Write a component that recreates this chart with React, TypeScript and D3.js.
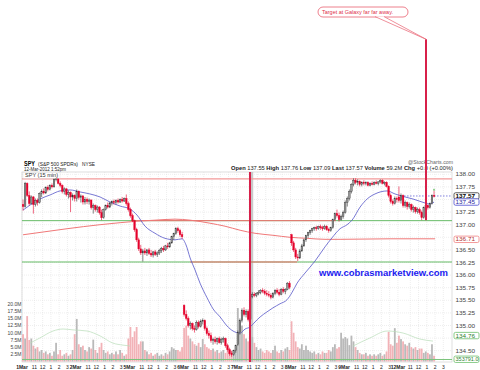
import React from "react";
import * as d3 from "d3";

const width = 480;
const height = 370;
const plotLeft = 22;
const plotRight = 452;
const plotTop = 172;
const plotBottom = 362;
const slotsPerDay = 26;
const font = "'Liberation Sans', Arial, sans-serif";

const DAYS = ["1Mar", "2Mar", "5Mar", "6Mar", "7Mar", "8Mar", "9Mar", "12Mar"];
const HOUR_LABELS = ["11", "12", "1", "2", "3"];
const HOUR_SLOTS = [6, 10, 14, 18, 22];
const PRICE_LABELS = [138, 137.75, 137.25, 137, 136.5, 136.25, 136, 135.75, 135.5, 135.25, 135, 134.5];
const VOLUME_TICKS = [20, 17.5, 15, 12.5, 10, 7.5, 5, 2.5];

const HEADER_STATS = [
  ["Open", "137.55"],
  ["High", "137.76"],
  ["Low", "137.09"],
  ["Last", "137.57"],
  ["Volume", "59.2M"],
  ["Chg", "+0.0 (+0.00%)"],
];

type Candle = [number, number, number, number];

// 15 min bars, [open, high, low, close]
const mar01: Candle[] = [
  [137.40, 137.50, 137.28, 137.36], [137.36, 137.85, 137.34, 137.82], [137.82, 137.84, 137.55, 137.58],
  [137.58, 137.66, 137.38, 137.42], [137.42, 137.58, 137.40, 137.55], [137.55, 137.57, 137.22, 137.40],
  [137.40, 137.52, 137.36, 137.48], [137.48, 137.52, 137.38, 137.44], [137.44, 137.64, 137.42, 137.62],
  [137.62, 137.70, 137.55, 137.66], [137.66, 137.72, 137.60, 137.63], [137.63, 137.76, 137.61, 137.74],
  [137.74, 137.78, 137.66, 137.70], [137.70, 137.80, 137.68, 137.78], [137.78, 137.82, 137.72, 137.75],
  [137.75, 137.93, 137.74, 137.90], [137.90, 137.96, 137.86, 137.92], [137.92, 137.94, 137.80, 137.82],
  [137.82, 137.86, 137.74, 137.78], [137.78, 137.80, 137.62, 137.66], [137.66, 137.74, 137.60, 137.71],
  [137.71, 137.73, 137.56, 137.60], [137.60, 137.68, 137.52, 137.64], [137.64, 137.66, 137.25, 137.55],
  [137.55, 137.62, 137.48, 137.58], [137.58, 137.60, 137.46, 137.52],
];
const mar02: Candle[] = [
  [137.52, 137.70, 137.46, 137.66], [137.66, 137.68, 137.50, 137.54], [137.54, 137.60, 137.44, 137.57],
  [137.57, 137.59, 137.40, 137.45], [137.45, 137.55, 137.40, 137.50], [137.50, 137.54, 137.41, 137.46],
  [137.46, 137.52, 137.40, 137.49], [137.49, 137.50, 137.30, 137.34], [137.34, 137.42, 137.22, 137.38],
  [137.38, 137.40, 137.26, 137.30], [137.30, 137.38, 137.24, 137.35], [137.35, 137.37, 137.20, 137.24],
  [137.24, 137.30, 137.09, 137.14], [137.14, 137.32, 137.12, 137.30], [137.30, 137.40, 137.28, 137.38],
  [137.38, 137.44, 137.32, 137.35], [137.35, 137.45, 137.33, 137.43], [137.43, 137.48, 137.38, 137.46],
  [137.46, 137.50, 137.40, 137.44], [137.44, 137.50, 137.40, 137.48], [137.48, 137.52, 137.42, 137.45],
  [137.45, 137.52, 137.43, 137.50], [137.50, 137.55, 137.44, 137.47], [137.47, 137.54, 137.45, 137.52],
  [137.52, 137.60, 137.38, 137.42], [137.42, 137.46, 137.26, 137.30],
];
const mar05: Candle[] = [
  [137.30, 137.34, 137.14, 137.18], [137.18, 137.22, 137.05, 137.08], [137.08, 137.10, 136.86, 136.90],
  [136.90, 136.94, 136.66, 136.70], [136.70, 136.74, 136.48, 136.52], [136.52, 136.60, 136.40, 136.44],
  [136.44, 136.52, 136.27, 136.48], [136.48, 136.54, 136.40, 136.44], [136.44, 136.52, 136.38, 136.50],
  [136.50, 136.54, 136.40, 136.43], [136.43, 136.50, 136.36, 136.40], [136.40, 136.48, 136.35, 136.46],
  [136.46, 136.50, 136.38, 136.41], [136.41, 136.47, 136.36, 136.44], [136.44, 136.52, 136.40, 136.49],
  [136.49, 136.56, 136.44, 136.53], [136.53, 136.58, 136.46, 136.50], [136.50, 136.60, 136.48, 136.58],
  [136.58, 136.64, 136.52, 136.56], [136.56, 136.66, 136.54, 136.64], [136.64, 136.78, 136.62, 136.76],
  [136.76, 136.84, 136.70, 136.82], [136.82, 136.95, 136.80, 136.92], [136.92, 136.96, 136.84, 136.88],
  [136.88, 136.92, 136.76, 136.80], [136.80, 136.86, 136.72, 136.76],
];
const mar06: Candle[] = [
  [135.40, 135.42, 135.18, 135.22], [135.22, 135.30, 135.10, 135.14], [135.14, 135.18, 134.96, 135.00],
  [135.00, 135.08, 134.92, 135.04], [135.04, 135.06, 134.90, 134.94], [134.94, 135.00, 134.86, 134.92],
  [134.92, 135.10, 134.90, 135.06], [135.06, 135.10, 134.94, 134.98], [134.98, 135.12, 134.96, 135.08],
  [135.08, 135.14, 135.02, 135.10], [135.10, 135.12, 134.90, 134.94], [134.94, 134.98, 134.80, 134.84],
  [134.84, 134.90, 134.74, 134.80], [134.80, 134.86, 134.66, 134.70], [134.70, 134.76, 134.62, 134.72],
  [134.72, 134.78, 134.64, 134.68], [134.68, 134.76, 134.62, 134.74], [134.74, 134.78, 134.64, 134.66],
  [134.66, 134.76, 134.62, 134.72], [134.72, 134.78, 134.66, 134.74], [134.74, 134.76, 134.56, 134.60],
  [134.60, 134.64, 134.48, 134.52], [134.52, 134.56, 134.40, 134.44], [134.44, 134.50, 134.38, 134.42],
  [134.42, 134.52, 134.40, 134.50], [134.50, 134.62, 134.46, 134.60],
];
const mar07: Candle[] = [
  [134.62, 134.90, 134.60, 134.86], [134.86, 135.14, 134.82, 135.10], [135.10, 135.34, 135.06, 135.30],
  [135.30, 135.36, 135.18, 135.22], [135.22, 135.32, 135.16, 135.28], [135.28, 135.32, 135.08, 135.12],
  [135.12, 135.62, 135.10, 135.58], [135.58, 135.66, 135.54, 135.62], [135.62, 135.66, 135.56, 135.60],
  [135.60, 135.66, 135.56, 135.64], [135.64, 135.70, 135.60, 135.66], [135.66, 135.72, 135.62, 135.70],
  [135.70, 135.74, 135.64, 135.68], [135.68, 135.72, 135.60, 135.64], [135.64, 135.70, 135.58, 135.62],
  [135.62, 135.68, 135.56, 135.60], [135.60, 135.64, 135.52, 135.56], [135.56, 135.66, 135.54, 135.64],
  [135.64, 135.72, 135.60, 135.70], [135.70, 135.74, 135.62, 135.66], [135.66, 135.72, 135.58, 135.62],
  [135.62, 135.74, 135.60, 135.72], [135.72, 135.76, 135.64, 135.68], [135.68, 135.74, 135.62, 135.72],
  [135.72, 135.86, 135.70, 135.84], [135.84, 135.88, 135.72, 135.76],
];
const mar08: Candle[] = [
  [136.80, 136.82, 136.58, 136.64], [136.64, 136.68, 136.46, 136.50], [136.50, 136.54, 136.32, 136.36],
  [136.36, 136.42, 136.28, 136.34], [136.34, 136.52, 136.32, 136.48], [136.48, 136.62, 136.46, 136.58],
  [136.58, 136.72, 136.56, 136.70], [136.70, 136.80, 136.66, 136.78], [136.78, 136.86, 136.74, 136.84],
  [136.84, 136.90, 136.80, 136.88], [136.88, 136.94, 136.84, 136.92], [136.92, 136.96, 136.88, 136.94],
  [136.94, 136.98, 136.88, 136.92], [136.92, 136.98, 136.90, 136.96], [136.96, 137.00, 136.90, 136.94],
  [136.94, 136.98, 136.88, 136.92], [136.92, 137.00, 136.90, 136.97], [136.97, 136.99, 136.88, 136.90],
  [136.90, 136.94, 136.84, 136.88], [136.88, 136.96, 136.86, 136.94], [136.94, 137.12, 136.92, 137.10],
  [137.10, 137.24, 137.08, 137.22], [137.22, 137.30, 137.14, 137.18], [137.18, 137.24, 137.06, 137.10],
  [137.10, 137.20, 137.08, 137.16], [137.16, 137.28, 137.12, 137.24],
];
const mar09: Candle[] = [
  [137.24, 137.48, 137.22, 137.44], [137.44, 137.56, 137.36, 137.52], [137.52, 137.70, 137.48, 137.66],
  [137.66, 137.82, 137.62, 137.80], [137.80, 137.92, 137.76, 137.88], [137.88, 137.92, 137.80, 137.84],
  [137.84, 137.90, 137.78, 137.86], [137.86, 137.88, 137.76, 137.80], [137.80, 137.86, 137.76, 137.84],
  [137.84, 137.88, 137.78, 137.82], [137.82, 137.86, 137.78, 137.84], [137.84, 137.86, 137.76, 137.78],
  [137.78, 137.84, 137.76, 137.82], [137.82, 137.86, 137.78, 137.80], [137.80, 137.86, 137.78, 137.84],
  [137.84, 137.88, 137.80, 137.82], [137.82, 137.86, 137.78, 137.85], [137.85, 137.90, 137.82, 137.88],
  [137.88, 137.90, 137.80, 137.82], [137.82, 137.86, 137.78, 137.84], [137.84, 137.86, 137.74, 137.76],
  [137.76, 137.78, 137.54, 137.58], [137.58, 137.62, 137.42, 137.46], [137.46, 137.50, 137.38, 137.42],
  [137.42, 137.56, 137.40, 137.52], [137.52, 137.56, 137.44, 137.50],
];
const mar12: Candle[] = [
  [137.55, 137.76, 137.44, 137.48], [137.48, 137.62, 137.42, 137.58], [137.58, 137.60, 137.34, 137.38],
  [137.38, 137.48, 137.34, 137.44], [137.44, 137.46, 137.30, 137.36], [137.36, 137.44, 137.32, 137.40],
  [137.40, 137.42, 137.26, 137.30], [137.30, 137.38, 137.24, 137.34], [137.34, 137.36, 137.22, 137.26],
  [137.26, 137.34, 137.22, 137.30], [137.30, 137.34, 137.20, 137.24], [137.24, 137.28, 137.09, 137.14],
  [137.14, 137.36, 137.12, 137.34], [137.34, 137.42, 137.28, 137.38], [137.38, 137.40, 137.30, 137.34],
  [137.34, 137.44, 137.32, 137.42], [137.42, 137.60, 137.40, 137.58], [137.58, 137.68, 137.54, 137.57],
];
const CANDLES = [mar01, mar02, mar05, mar06, mar07, mar08, mar09, mar12];

// volume in millions, one per bar
const vol01 = [9.5, 8.0, 15.8, 7.5, 8.0, 5.5, 4.5, 5.0, 3.5, 4.0, 3.0, 3.5, 2.5, 3.0, 2.0, 3.5, 6.5, 2.5, 4.0, 2.0, 2.5, 3.0, 2.0, 2.5, 4.0, 9.5];
const vol02 = [14.8, 6.0, 5.0, 5.5, 4.0, 3.5, 5.0, 4.5, 7.6, 4.0, 3.0, 5.0, 6.5, 4.0, 3.0, 3.5, 2.5, 3.0, 2.5, 3.5, 2.5, 4.0, 3.0, 2.0, 2.5, 8.0];
const vol05 = [12.0, 8.5, 10.5, 12.0, 6.0, 7.0, 7.0, 4.0, 3.5, 2.5, 3.0, 2.0, 2.5, 3.0, 2.0, 2.5, 2.0, 3.0, 2.5, 3.5, 5.0, 4.5, 4.0, 4.0, 3.5, 5.0];
const vol06 = [11.7, 12.5, 9.0, 8.0, 7.0, 6.0, 5.5, 6.5, 5.0, 7.8, 6.0, 5.0, 4.5, 4.0, 4.5, 3.5, 4.0, 3.0, 3.5, 4.0, 3.0, 3.5, 4.0, 3.5, 3.0, 4.5];
const vol07 = [18.6, 14.0, 12.5, 9.5, 8.0, 7.0, 9.0, 8.5, 6.5, 5.0, 4.0, 4.5, 3.5, 3.0, 4.0, 3.5, 3.0, 4.0, 5.5, 3.5, 3.0, 4.0, 3.5, 4.5, 5.0, 4.0];
const vol08 = [14.0, 10.0, 7.0, 5.0, 4.5, 6.0, 4.0, 5.5, 4.0, 3.5, 3.0, 3.5, 2.5, 3.0, 2.5, 3.5, 3.0, 3.0, 4.0, 3.5, 5.0, 6.0, 4.5, 5.0, 10.0, 8.0];
const vol09 = [8.5, 8.0, 5.7, 9.0, 7.0, 5.0, 4.0, 3.0, 2.5, 2.5, 3.0, 2.0, 2.5, 2.0, 2.5, 2.0, 2.5, 3.0, 2.0, 2.5, 3.5, 10.3, 6.0, 5.5, 11.6, 6.5];
const vol12 = [9.0, 7.8, 7.0, 6.0, 5.5, 6.5, 5.0, 4.5, 5.0, 4.0, 4.5, 4.5, 3.0, 3.5, 3.0, 2.5, 6.0, 2.0];
const VOLUMES = [vol01, vol02, vol05, vol06, vol07, vol08, vol09, vol12];

// moving averages: [bar slot, value]
const BLUE_MA: [number, number][] = [
  [0.5, 137.29], [3.9, 137.39], [8.7, 137.51], [13.6, 137.59], [18.4, 137.67], [23.2, 137.69],
  [28.1, 137.65], [32.9, 137.61], [37.8, 137.55], [42.6, 137.45], [47.5, 137.37], [52.3, 137.31],
  [55.7, 137.19], [59.6, 136.97], [64.4, 136.83], [69.2, 136.73], [74.1, 136.70], [77.5, 136.72],
  [79.4, 136.60], [81.4, 136.34], [83.8, 136.10], [86.2, 135.84], [89.6, 135.55], [92.5, 135.33],
  [95.9, 135.17], [99.3, 134.99], [102.2, 134.89], [105.6, 134.85], [108.0, 134.93], [110.4, 134.97],
  [112.8, 135.07], [115.3, 135.17], [118.6, 135.27], [121.5, 135.35], [124.9, 135.43], [128.3, 135.51],
  [130.8, 135.66], [133.2, 135.84], [137.0, 136.04], [141.9, 136.28], [146.7, 136.56], [150.1, 136.74],
  [154.0, 136.92], [157.4, 137.00], [159.8, 137.09], [163.7, 137.35], [167.1, 137.51], [170.9, 137.61],
  [176.8, 137.67], [180.6, 137.61], [185.5, 137.55], [189.3, 137.51], [193.7, 137.45], [197.5, 137.41],
  [199.5, 137.45],
];
const RED_MA: [number, number][] = [
  [0.5, 136.80], [11.1, 136.86], [21.8, 136.92], [37.8, 137.00], [47.5, 137.04], [55.7, 137.07],
  [64.4, 137.09], [74.1, 137.11], [81.4, 137.09], [91.0, 137.03], [98.3, 136.97], [105.6, 136.89],
  [112.8, 136.83], [121.5, 136.79], [129.8, 136.75], [138.0, 136.73], [146.7, 136.71], [154.0, 136.71],
  [178.2, 136.72], [200.0, 136.72],
];
const VOL_MA_A: [number, number][] = [
  [3.9, 6.4], [8.7, 8.2], [15.0, 10.6], [19.9, 11.3], [24.7, 11.0], [31.5, 10.6], [37.8, 8.9],
  [44.0, 6.4], [48.9, 5.7], [52.3, 5.4],
];
const VOL_MA_B: [number, number][] = [
  [160.3, 5.4], [168.5, 8.2], [176.8, 10.6], [184.5, 9.9], [192.7, 7.8], [199.0, 7.1],
];

const RESISTANCE = 137.91;
const SUPPORT_HIGH = 137.08;
const SUPPORT_HIGH_BROKEN = [55, 152];
const SUPPORT_LOW = 136.26;
const SUPPORT_LOW_BROKEN = [81.4, 133.2];
const LAST_PRICE = 137.57;
const LAST_VOLUME_LINE = 0.7;
const EVENT_SLOT = 110.4;
const TARGET_SLOT = 195.6;
const TARGET_PRICE = 140.68;
const TARGET_FROM = 137.09;

const PRICE_BOXES = [
  { label: "137.57", value: 137.57, stroke: "#333", color: "#000" },
  { label: "137.45", value: 137.45, stroke: "#4a4ad0", color: "#2a2aa0" },
  { label: "136.71", value: 136.71, stroke: "#f08080", color: "#b03030" },
  { label: "134.76", value: 134.80, stroke: "#6cbf6c", color: "#2f7f2f" },
  { label: "353791.0", value: 134.33, stroke: "#6cbf6c", color: "#2f7f2f" },
];

const x = d3.scaleLinear().domain([0, 208]).range([plotLeft, 451.6]);
const y = d3.scaleLinear().domain([134.5, 138]).range([350.7, 174.3]);
const yVol = d3.scaleLinear().domain([0, 20]).range([361.5, 304]);

const bars = CANDLES.flatMap((day, d) =>
  day.map(([o, h, l, c], j) => ({
    slot: d * slotsPerDay + j + 0.5,
    o, h, l, c,
    v: VOLUMES[d][j],
    up: c >= o,
  }))
);

const ticks = DAYS.flatMap((day, d) => [
  { slot: d * slotsPerDay, label: day, bold: true },
  ...HOUR_SLOTS.map((s, i) => ({ slot: d * slotsPerDay + s, label: HOUR_LABELS[i], bold: false })),
]);

const priceLine = d3.line<[number, number]>()
  .x(d => x(d[0]))
  .y(d => y(d[1]))
  .curve(d3.curveMonotoneX);

const volLine = d3.line<[number, number]>()
  .x(d => x(d[0]))
  .y(d => yVol(d[1]))
  .curve(d3.curveMonotoneX);

const App = () => {
  const candleW = 1.6;
  const gridPrices = d3.range(134.5, 138.01, 0.25);
  return (
    <svg width={width} height={height} style={{ position: "absolute", left: 0, top: 0, fontFamily: font }}>
      <rect width={width} height={height} fill="#fff" />

      {/* header */}
      <text x={24} y={165.5} fontSize={7} fontWeight="bold" textLength={11} lengthAdjust="spacingAndGlyphs">SPY</text>
      <text x={38} y={165.5} fontSize={5} fill="#222" textLength={40} lengthAdjust="spacingAndGlyphs">(S&amp;P 500 SPDRs)</text>
      <text x={82} y={165.5} fontSize={5} fill="#222" textLength={13} lengthAdjust="spacingAndGlyphs">NYSE</text>
      <text x={24} y={171} fontSize={5} fill="#222" textLength={42} lengthAdjust="spacingAndGlyphs">12-Mar-2012 1:52pm</text>
      <text x={408} y={164} fontSize={5} fill="#666" textLength={45} lengthAdjust="spacingAndGlyphs">@StockCharts.com</text>
      <text x={231} y={170} fontSize={5} fill="#222" textLength={222} lengthAdjust="spacingAndGlyphs">
        {HEADER_STATS.map(([k, v], i) => (
          <React.Fragment key={k}>
            <tspan fontWeight="bold">{(i ? " " : "") + k}</tspan>
            <tspan>{" " + v}</tspan>
          </React.Fragment>
        ))}
      </text>

      {/* grid */}
      <rect x={plotLeft} y={plotTop} width={plotRight - plotLeft} height={plotBottom - plotTop} fill="none" stroke="#c8c8c8" strokeWidth={0.6} />
      {gridPrices.map(p => (
        <line key={p} x1={plotLeft} x2={plotRight} y1={y(p)} y2={y(p)} stroke="#dcdcdc" strokeWidth={0.5} strokeDasharray="1,1" />
      ))}
      {ticks.map((t, i) => (
        <line key={i} x1={x(t.slot)} x2={x(t.slot)} y1={plotTop} y2={plotBottom} stroke="#dcdcdc" strokeWidth={0.5} strokeDasharray="1,1" />
      ))}

      {/* event line background */}
      <rect x={x(EVENT_SLOT) + 1} y={plotTop} width={2.2} height={plotBottom - plotTop} fill="#c9c9c9" />

      {/* volume */}
      {bars.map(b => (
        <rect key={"v" + b.slot} x={x(b.slot) - 0.9} width={1.8} y={yVol(b.v)} height={yVol(0) - yVol(b.v)}
          fill={b.up ? "#b9b9b9" : "#f2b2b7"} />
      ))}
      <line x1={plotLeft} x2={plotRight} y1={yVol(LAST_VOLUME_LINE)} y2={yVol(LAST_VOLUME_LINE)} stroke="#7cc47c" strokeWidth={1} />
      <path d={volLine(VOL_MA_A) ?? ""} fill="none" stroke="#b8dcb8" strokeWidth={0.7} />
      <path d={volLine(VOL_MA_B) ?? ""} fill="none" stroke="#b8dcb8" strokeWidth={0.7} />

      {/* levels */}
      <line x1={plotLeft} x2={plotRight} y1={y(RESISTANCE)} y2={y(RESISTANCE)} stroke="#f39a9a" strokeWidth={1.2} />
      <line x1={plotLeft} x2={plotRight} y1={y(SUPPORT_HIGH)} y2={y(SUPPORT_HIGH)} stroke="#66bb66" strokeWidth={1} />
      <line x1={x(SUPPORT_HIGH_BROKEN[0])} x2={x(SUPPORT_HIGH_BROKEN[1])} y1={y(SUPPORT_HIGH)} y2={y(SUPPORT_HIGH)} stroke="#f07070" strokeWidth={1} />
      <line x1={plotLeft} x2={plotRight} y1={y(SUPPORT_LOW)} y2={y(SUPPORT_LOW)} stroke="#66bb66" strokeWidth={1} />
      <line x1={x(SUPPORT_LOW_BROKEN[0])} x2={x(SUPPORT_LOW_BROKEN[1])} y1={y(SUPPORT_LOW)} y2={y(SUPPORT_LOW)} stroke="#f07070" strokeWidth={1} />

      {/* moving averages */}
      <path d={priceLine(RED_MA) ?? ""} fill="none" stroke="#f07878" strokeWidth={1} />
      <path d={priceLine(BLUE_MA) ?? ""} fill="none" stroke="#5555c8" strokeWidth={0.8} />
      <line x1={x(BLUE_MA[BLUE_MA.length - 1][0]) - 30} x2={plotRight} y1={y(LAST_PRICE)} y2={y(LAST_PRICE)} stroke="#4a4ad0" strokeWidth={0.7} strokeDasharray="1.5,1.5" />

      {/* candles */}
      {bars.map(b => {
        const cx = x(b.slot);
        const col = b.up ? "#333" : "#e4002b";
        const top = y(Math.max(b.o, b.c));
        const bh = Math.max(0.8, Math.abs(y(b.o) - y(b.c)));
        return (
          <g key={"c" + b.slot}>
            <line x1={cx} x2={cx} y1={y(b.h)} y2={y(b.l)} stroke={col} strokeWidth={0.6} />
            <rect x={cx - candleW / 2} y={top} width={candleW} height={bh}
              fill={b.up ? "#9a9a9a" : col} stroke={col} strokeWidth={0.4} />
          </g>
        );
      })}
      {(() => {
        const last = bars[bars.length - 1];
        return <rect x={x(last.slot) - 1} y={y(last.h) - 1.6} width={2} height={1.8} fill="#8fd08f" />;
      })()}

      {/* event line */}
      <line x1={x(EVENT_SLOT)} x2={x(EVENT_SLOT)} y1={plotTop} y2={plotBottom} stroke="#d8204a" strokeWidth={2} />

      {/* legend */}
      <rect x={23} y={172.6} width={37} height={5.6} fill="#fff" stroke="#ddd" strokeWidth={0.4} />
      <text x={25} y={177.2} fontSize={5} fill="#333" textLength={33} lengthAdjust="spacingAndGlyphs">SPY (15 min)</text>

      {/* watermark */}
      <text x={319} y={275.5} fontSize={8.6} fontWeight="bold" fill="#1c1cf0" textLength={129} lengthAdjust="spacingAndGlyphs">www.cobrasmarketview.com</text>

      {/* price axis */}
      {PRICE_LABELS.map(p => (
        <text key={p} x={455.5} y={y(p) + 2} fontSize={6.2} fill="#444" textLength={19.5} lengthAdjust="spacingAndGlyphs">{p.toFixed(2)}</text>
      ))}
      {PRICE_BOXES.map(b => (
        <g key={b.label}>
          <rect x={454} y={y(b.value) - 3.2} width={25} height={6.4} rx={1.5} fill="#fff" stroke={b.stroke} strokeWidth={0.8} />
          <text x={455.5} y={y(b.value) + 2} fontSize={6.2} fill={b.color} fontWeight={b.label === "137.57" ? "bold" : "normal"}
            textLength={b.label.length > 6 ? 23 : 19.5} lengthAdjust="spacingAndGlyphs">{b.label}</text>
        </g>
      ))}

      {/* volume axis */}
      {VOLUME_TICKS.map(v => (
        <text key={v} x={21.5} y={yVol(v) + 1.8} fontSize={5} fill="#444" textAnchor="end">{v.toFixed(1) + "M"}</text>
      ))}

      {/* time axis */}
      {ticks.map((t, i) => (
        <text key={i} x={x(t.slot)} y={368.5} fontSize={5} fontWeight={t.bold ? "bold" : "normal"} fill="#222" textAnchor="middle">{t.label}</text>
      ))}

      {/* target annotation */}
      <line x1={x(TARGET_SLOT)} x2={x(TARGET_SLOT)} y1={y(TARGET_FROM)} y2={y(TARGET_PRICE)} stroke="#d8204a" strokeWidth={2} />
      <rect x={318} y={7} width={90} height={10} rx={5} fill="#fff" stroke="#e86070" strokeWidth={0.8} />
      <path d={`M375,16.6 L${x(TARGET_SLOT)},${y(TARGET_PRICE)} L384,16.6`} fill="#fff" stroke="#e86070" strokeWidth={0.7} />
      <text x={322} y={14} fontSize={5} fill="#e0304a" textLength={71} lengthAdjust="spacingAndGlyphs">Target at Galaxy far far away.</text>
    </svg>
  );
};

export default App;
